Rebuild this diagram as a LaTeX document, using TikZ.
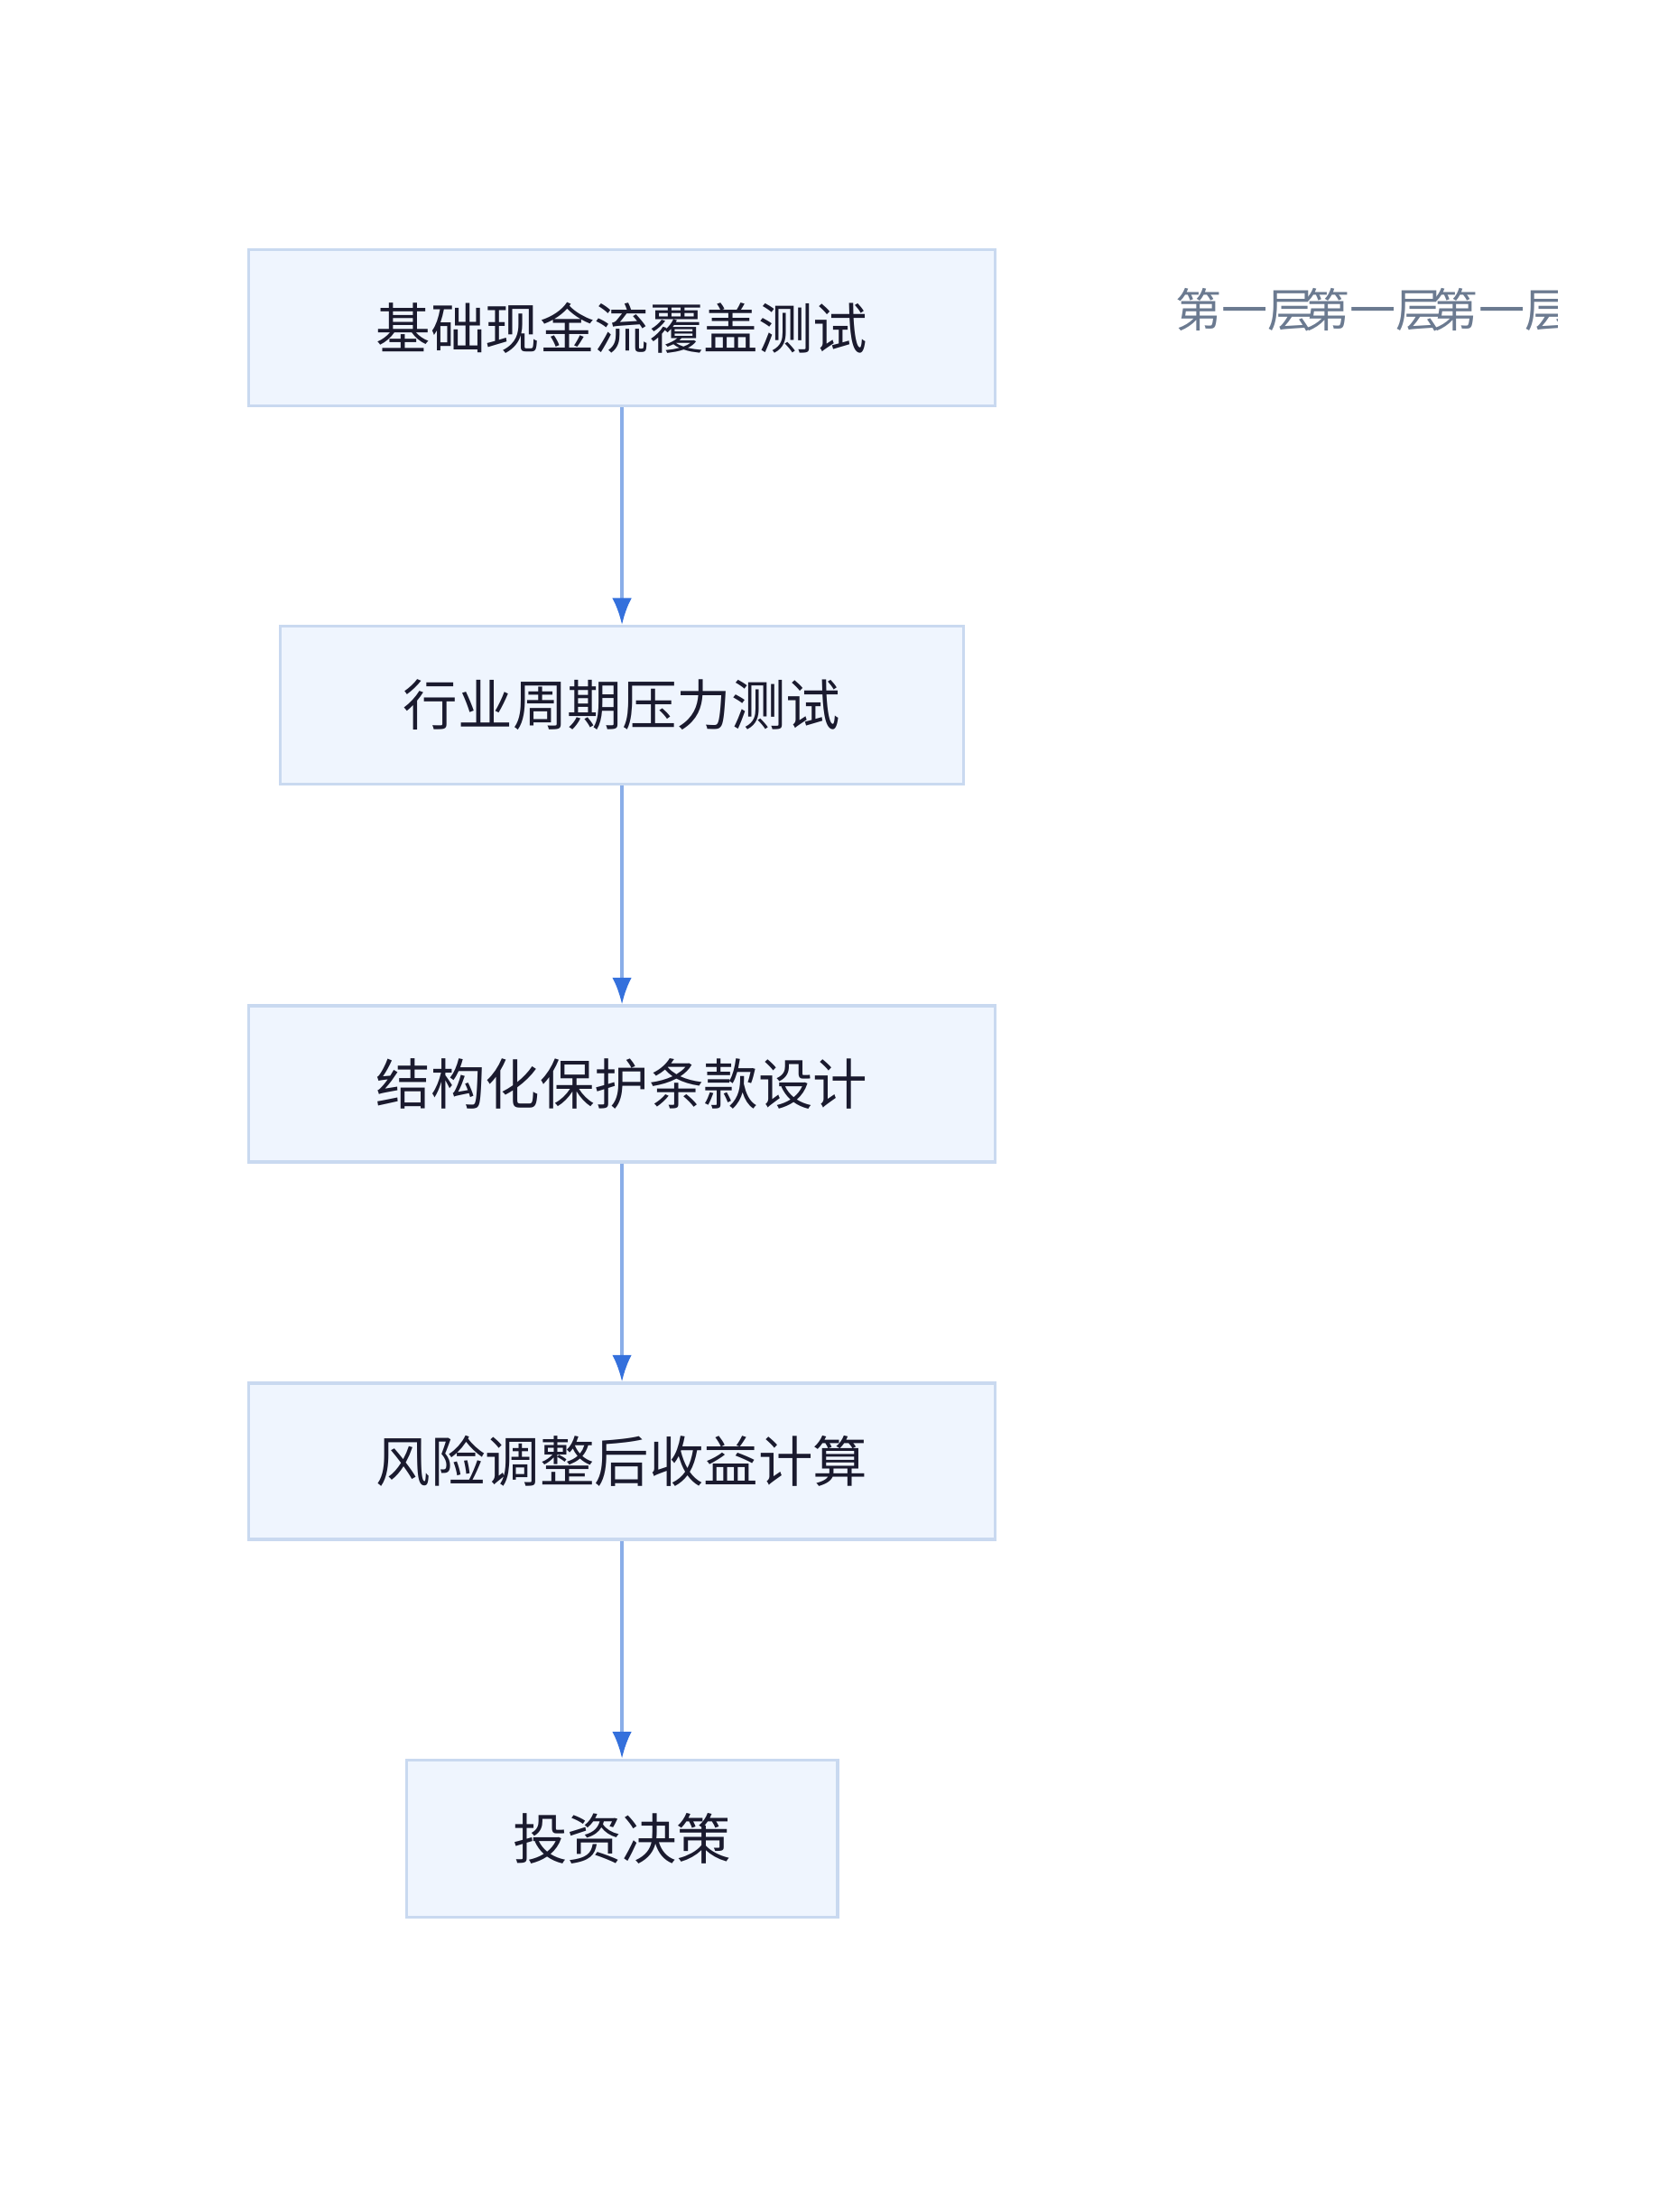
\documentclass[tikz,border=0pt]{standalone}
\usepackage{fontspec}
\newfontfamily\cjk{Noto Sans CJK SC}
\usetikzlibrary{arrows.meta}
\definecolor{boxfill}{HTML}{EFF5FE}
\definecolor{boxdraw}{HTML}{C9D9F0}
\definecolor{linec}{HTML}{8AAEE8}
\definecolor{tipc}{HTML}{3470DC}
\definecolor{txt}{HTML}{1A1A2E}
\definecolor{lab}{HTML}{6B7A90}
\begin{document}
\begin{tikzpicture}[x=0.02cm,y=-0.02cm,
  box/.style={draw=boxdraw,fill=boxfill,line width=1.2pt,inner sep=0pt,text=txt,font=\cjk\fontsize{22.5}{26}\selectfont},
  arr/.style={draw=linec,line width=1.3pt,-{Latex[length=11pt,width=8pt,fill=tipc,color=tipc]}},
  lab/.style={text=lab,font=\cjk\fontsize{19}{22}\selectfont,anchor=west,inner sep=0pt}]
\useasboundingbox (0,0) rectangle (1200,1600);
\node[box,minimum width=540*0.02cm,minimum height=113*0.02cm] (a) at (450,237) {基础现金流覆盖测试};
\node[box,minimum width=494*0.02cm,minimum height=114*0.02cm] (b) at (450,510) {行业周期压力测试};
\node[box,minimum width=540*0.02cm,minimum height=113*0.02cm] (c) at (450,784) {结构化保护条款设计};
\node[box,minimum width=540*0.02cm,minimum height=113*0.02cm] (d) at (450,1057) {风险调整后收益计算};
\node[box,minimum width=312*0.02cm,minimum height=114*0.02cm] (e) at (450,1330) {投资决策};
\draw[arr] (a) -- (b);
\draw[arr] (b) -- (c);
\draw[arr] (c) -- (d);
\draw[arr] (d) -- (e);
\begin{scope}
\clip (840,180) rectangle (1127,270);
\node[lab] (l1) at (850,224) {第一层};
\node[lab] (l2) at (943,224) {第一层};
\node[lab] (l3) at (1036,224) {第一层};
\end{scope}
\end{tikzpicture}
\end{document}
